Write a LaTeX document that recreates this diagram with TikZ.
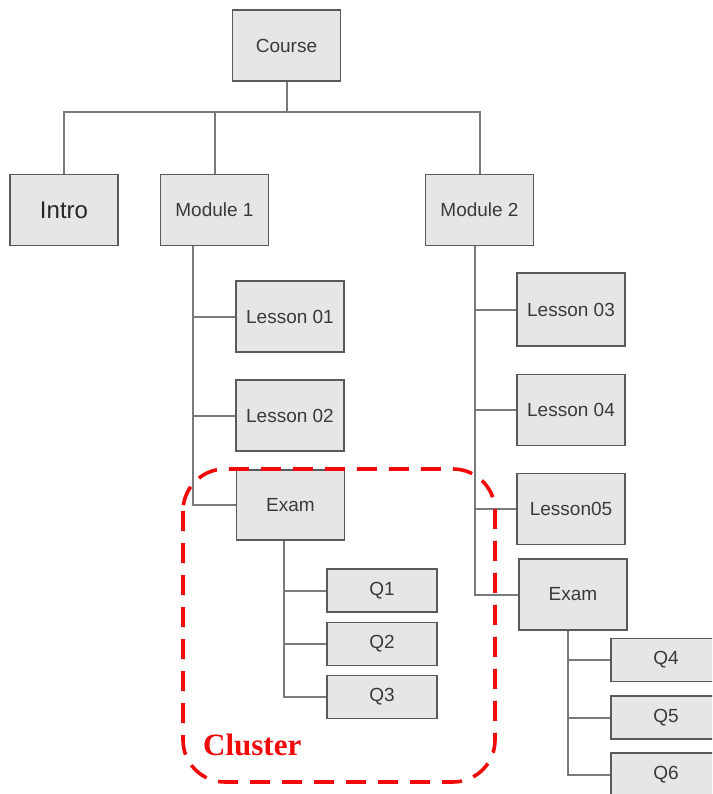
\documentclass[tikz,border=0pt]{standalone}
\usepackage{fontspec}
\setmainfont{Liberation Serif}
\setsansfont{Liberation Sans}
\definecolor{boxfill}{HTML}{E6E6E6}
\definecolor{boxline}{HTML}{5A5A5A}
\definecolor{wire}{HTML}{7A7A7A}
\definecolor{labeltext}{HTML}{3A3A3A}
\definecolor{clusterred}{HTML}{F00A0A}
\begin{document}
\begin{tikzpicture}[x=1pt,y=-1pt,
  box/.style={draw=boxline, fill=boxfill, line width=1.8pt, text=labeltext,
    font=\sffamily\fontsize{19}{22}\selectfont, inner sep=0pt,
    minimum width=108pt, minimum height=71pt},
  qbox/.style={box, minimum width=110pt, minimum height=43pt},
  bigbox/.style={box, font=\sffamily\fontsize{24}{28}\selectfont, text=black!85},
  wire/.style={draw=wire, line width=2pt},
  cluster/.style={draw=clusterred, line width=3.6pt, dash pattern=on 20pt off 12pt,
    rounded corners=42pt},
  clusterlabel/.style={text=clusterred, font=\rmfamily\bfseries\fontsize{31}{34}\selectfont,
    inner sep=0pt, anchor=base west}]
\useasboundingbox (0,0) rectangle (712,794);
\clip (0,0) rectangle (712,794);
\fill[white] (0,0) rectangle (712,794);

% top level
\node[box] (course) at (286.5,45.5) {Course};
\node[bigbox] (intro) at (64,210) {Intro};
\node[box] (module1) at (214.5,210) {Module 1};
\node[box] (module2) at (479.5,210) {Module 2};

% module 1 branch
\node[box] (lesson01) at (290,316.5) {Lesson 01};
\node[box] (lesson02) at (290,415.5) {Lesson 02};
\node[box, minimum height=70pt] (exam1) at (290.5,505) {Exam};
\node[qbox] (q1) at (382,590.5) {Q1};
\node[qbox] (q2) at (382,644) {Q2};
\node[qbox] (q3) at (382,697) {Q3};

% module 2 branch
\node[box, minimum height=73pt] (lesson03) at (571,309.5) {Lesson 03};
\node[box] (lesson04) at (571,410) {Lesson 04};
\node[box] (lesson05) at (571,509) {Lesson05};
\node[box] (exam2) at (573,594.5) {Exam};
\node[qbox] (q4) at (666,660) {Q4};
\node[qbox] (q5) at (666,717.5) {Q5};
\node[qbox] (q6) at (666,774.5) {Q6};

% connectors
\coordinate (bus) at (0,112);
\draw[wire] (course.south) -- (course.south |- bus);
\draw[wire] (intro.north) -- (intro.north |- bus) -- (module2.north |- bus) -- (module2.north);
\draw[wire] (module1.north) -- (module1.north |- bus);

\coordinate (s1) at ([xshift=-21.5pt]module1.south);
\draw[wire] (s1) |- (exam1.west);
\draw[wire] (s1 |- lesson01.west) -- (lesson01.west);
\draw[wire] (s1 |- lesson02.west) -- (lesson02.west);

\coordinate (e1) at ([xshift=-6.5pt]exam1.south);
\draw[wire] (e1) |- (q3.west);
\draw[wire] (e1 |- q1.west) -- (q1.west);
\draw[wire] (e1 |- q2.west) -- (q2.west);

\coordinate (s2) at ([xshift=-4.5pt]module2.south);
\draw[wire] (s2) |- (exam2.west);
\draw[wire] (s2 |- lesson03.west) -- (lesson03.west);
\draw[wire] (s2 |- lesson04.west) -- (lesson04.west);
\draw[wire] (s2 |- lesson05.west) -- (lesson05.west);

\coordinate (e2) at ([xshift=-5pt]exam2.south);
\draw[wire] (e2) |- (q6.west);
\draw[wire] (e2 |- q4.west) -- (q4.west);
\draw[wire] (e2 |- q5.west) -- (q5.west);

% cluster outline around the first exam
\draw[cluster] (183,469) rectangle (495,782);
\node[clusterlabel] (clustertext) at (203,755) {Cluster};
\end{tikzpicture}
\end{document}
